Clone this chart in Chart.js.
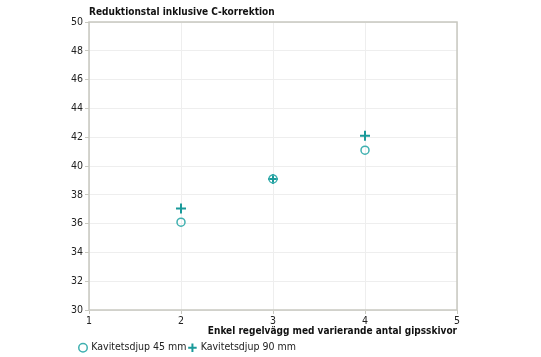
<!DOCTYPE html>
<html><head><meta charset="utf-8">
<script src="https://cdn.jsdelivr.net/npm/chart.js@4/dist/chart.umd.min.js"></script>
<style>html,body{margin:0;padding:0;background:#fff}#wrap{width:541px;height:357px}</style>
</head><body><div id="wrap"><canvas id="c" width="541" height="357"></canvas></div>
<script>
const xValues = [2, 3, 4];
const series45 = [36.1, 39.1, 41.1];
const series90 = [37.05, 39.1, 42.1];
const seriesNames = ["Kavitetsdjup 45 mm", "Kavitetsdjup 90 mm"];
const yTitle = "Reduktionstal inklusive C-korrektion";
const xTitle = "Enkel regelvägg med varierande antal gipsskivor";

const FONT = "'DejaVu Sans Condensed', 'DejaVu Sans', Verdana, sans-serif";
const frame = {
  id: 'frame',
  afterLayout(chart) {
    if (chart.legend) { chart.legend.left += 7; }
  },
  afterDatasetsDraw(chart) {
    const {ctx, chartArea: a} = chart;
    ctx.save();
    ctx.strokeStyle = '#c8c8c0';
    ctx.lineWidth = 1.5;
    ctx.strokeRect(a.left, a.top, a.right - a.left, a.bottom - a.top);
    ctx.restore();
  }
};
Chart.defaults.font.family = FONT;
Chart.defaults.font.size = 10.5;
Chart.defaults.color = '#222';
new Chart(document.getElementById('c'), {
  type: 'scatter',
  data: {
    datasets: [
      { label: seriesNames[0], data: xValues.map((x, i) => ({x, y: series45[i]})),
        pointStyle: 'circle', radius: 4, borderWidth: 1.5, borderColor: '#3fb0b0', backgroundColor: 'rgba(0,0,0,0)' },
      { label: seriesNames[1], data: xValues.map((x, i) => ({x, y: series90[i]})),
        pointStyle: 'cross', radius: 5, borderWidth: 2, borderColor: '#1a9a9a', backgroundColor: '#1a9a9a' }
    ]
  },
  options: {
    responsive: false, animation: false,
    layout: { padding: { left: 70, right: 84, top: 7, bottom: -6 } },
    plugins: {
      title: { display: true, text: yTitle, align: 'start', fullSize: false,
        font: { size: 10, weight: 'bold', lineHeight: 1 }, color: '#111', padding: { top: 0, bottom: 5 } },
      legend: { position: 'bottom', align: 'start',
        labels: { usePointStyle: true, boxWidth: 6, boxHeight: 6, padding: 3, font: { size: 10.5 }, color: '#222' } },
      tooltip: { enabled: false }
    },
    scales: {
      x: { type: 'linear', min: 1, max: 5,
        ticks: { stepSize: 1, color: '#222', padding: 2, font: { lineHeight: 1 } },
        grid: { color: '#eeeeee', tickLength: 4, tickColor: '#c8c8c0' },
        border: { display: false },
        title: { display: true, text: xTitle, align: 'end', font: { size: 10, weight: 'bold', lineHeight: 1 }, color: '#111', padding: { top: -2, bottom: 3 } } },
      y: { min: 30, max: 50,
        ticks: { stepSize: 2, color: '#222', padding: 2 },
        grid: { color: '#eeeeee', tickLength: 4, tickColor: '#c8c8c0' },
        border: { display: false },
        afterFit(s) { s.width = 19; } }
    }
  },
  plugins: [frame]
});
</script></body></html>
